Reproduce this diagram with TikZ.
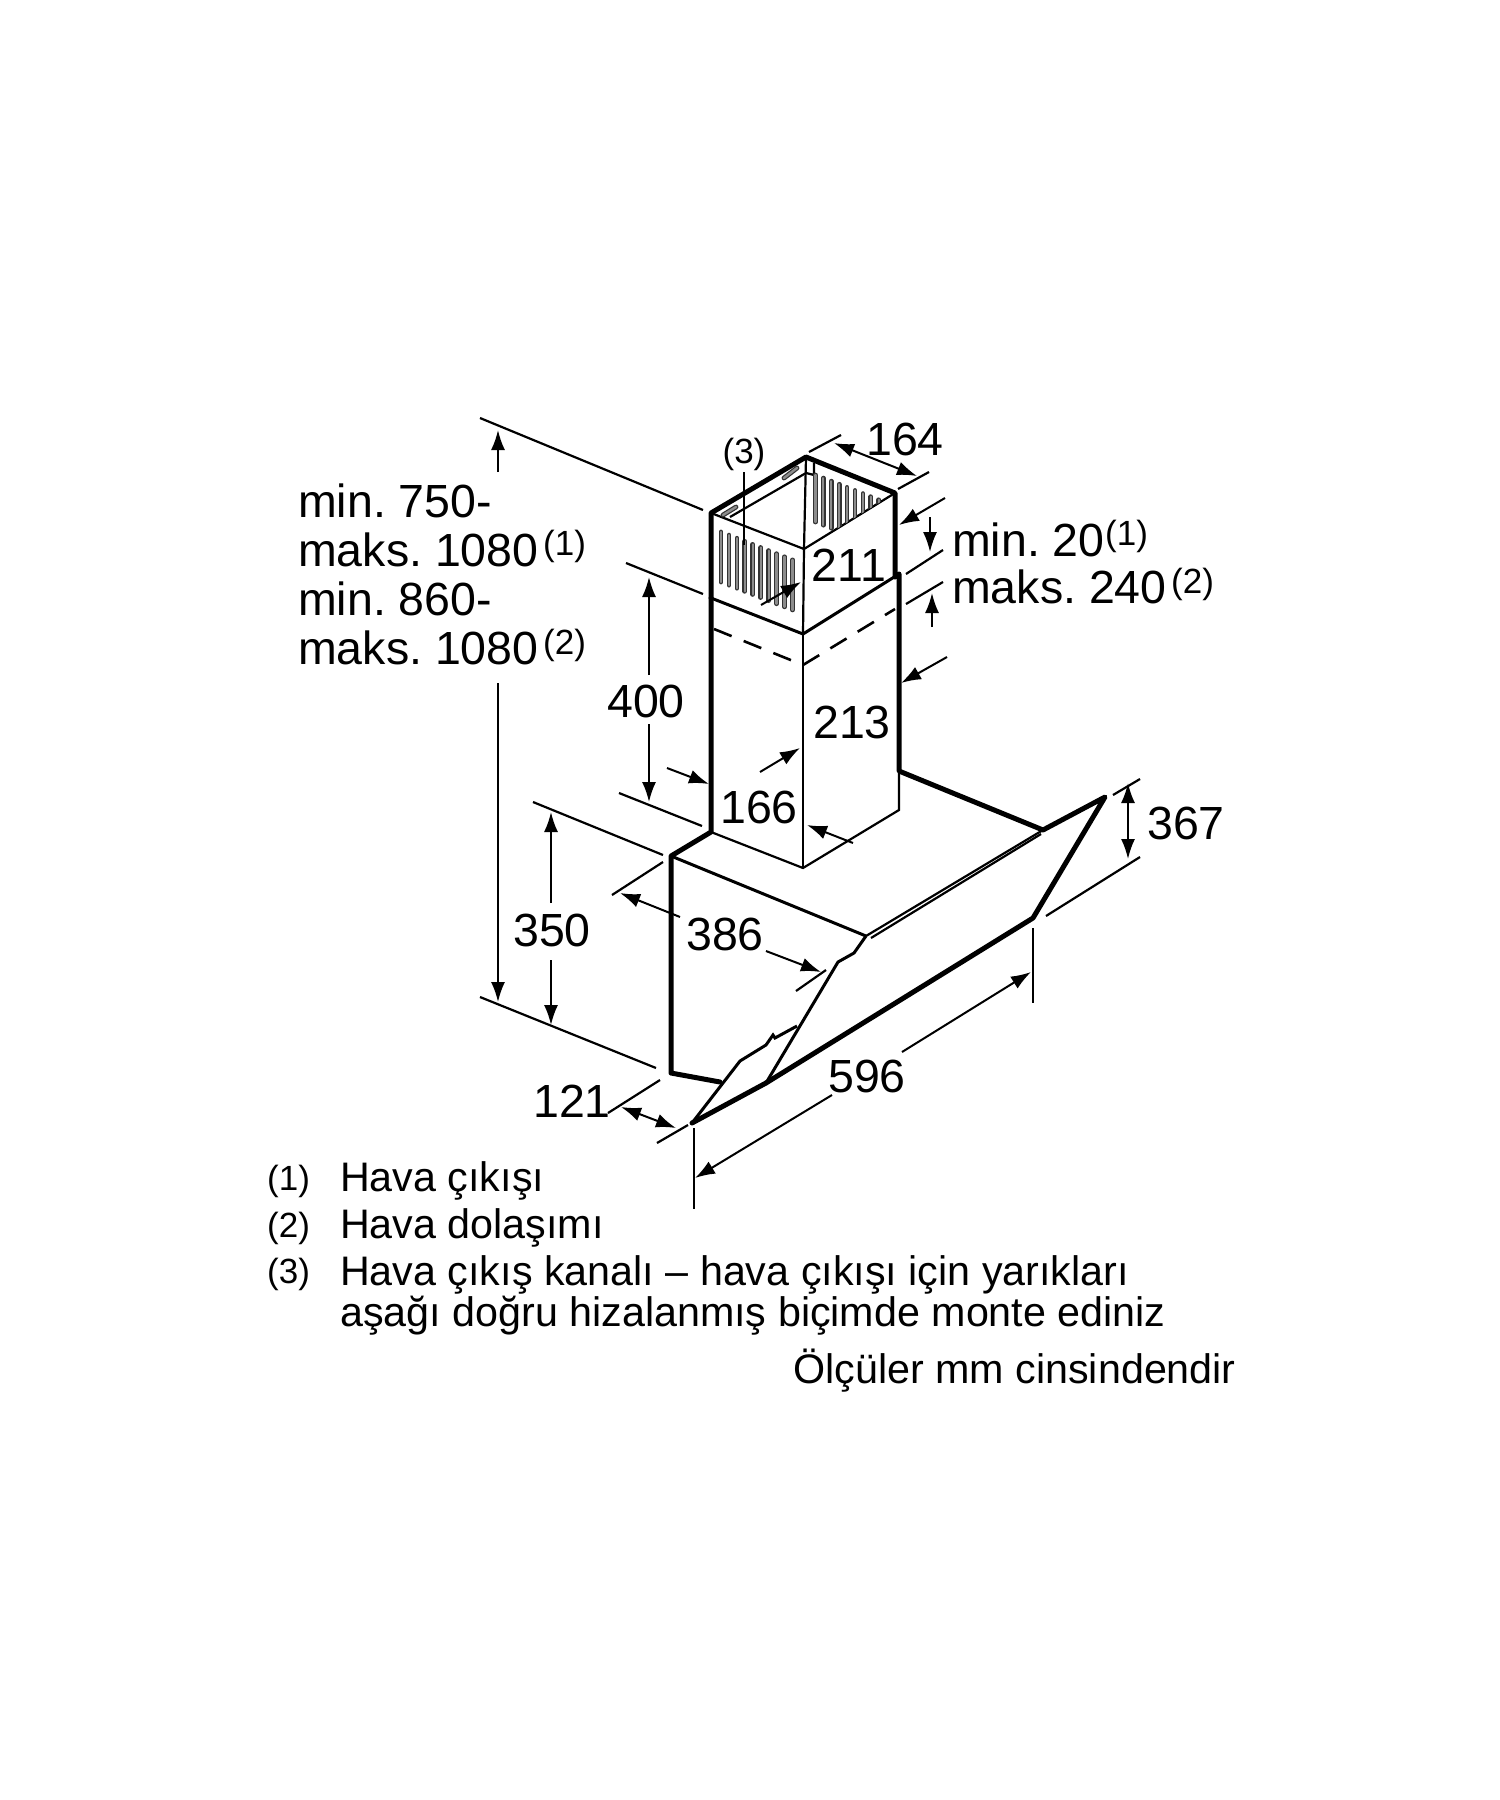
\documentclass[tikz,border=0pt]{standalone}
\usepackage{fontspec}
\setmainfont{Liberation Sans}
\frenchspacing
\usetikzlibrary{arrows.meta, positioning}

\tikzset{
  thinline/.style={line width=2.2pt},
  midline/.style={line width=3pt},
  hoodline/.style={line width=5pt, line cap=round, line join=round},
  dimline/.style={line width=2pt, -{Latex[length=20pt,width=14pt]}},
  bothline/.style={line width=2pt, {Latex[length=20pt,width=14pt]}-{Latex[length=20pt,width=14pt]}},
  slot/.style={line width=1.2pt, double=black!45, double distance=2.4pt, line cap=round, draw=black!80},
  big/.style={inner sep=0pt, anchor=base, font=\fontsize{46.5}{46.5}\selectfont},
  bigleft/.style={big, anchor=base west},
  small/.style={inner sep=0pt, anchor=base west, font=\fontsize{35}{35}\selectfont},
  legend/.style={inner sep=0pt, anchor=base west, font=\fontsize{41.25}{41.25}\selectfont},
}

\begin{document}
\begin{tikzpicture}[x=1pt, y=-1pt]
    \useasboundingbox (0,0) rectangle (1500,1800);

    \path (711,513) coordinate (top-left);
    \path (806,457) coordinate (top-back);
    \path (895,493) coordinate (top-right);
    \path (804,549) coordinate (top-front);
    \path (711,598) coordinate (joint-left);
    \path (803,634) coordinate (joint-front);
    \path (895,577) coordinate (joint-right);
    \path (899,574) coordinate (sleeve-right);
    \path (711,832) coordinate (duct-left);
    \path (803,868) coordinate (duct-front);
    \path (899,810) coordinate (duct-right);
    \path (899,771) coordinate (duct-back);
    \path (671,856) coordinate (hood-left);
    \path (1043,830) coordinate (hood-back);
    \path (866,936) coordinate (hood-front);
    \path (671,1073) coordinate (hood-low);
    \path (720,1082) coordinate (hood-end);
    \path (1105,797) coordinate (glass-top);
    \path (1033,918) coordinate (glass-right);
    \path (692,1123) coordinate (glass-tip);
    \path (766,1083) coordinate (glass-foot);
    \path (838,962) coordinate (glass-kink);

    % upper duct
    \draw[hoodline] (joint-left) -- (top-left) -- (top-back) -- (top-right) -- (joint-right);
    \draw[thinline] (top-left) -- (top-front) -- (top-right);
    \draw[thinline] (top-back) -- (top-front) -- (joint-front);
    \draw[thinline] (730,517) -- (806,473) -- (814,475) -- (814,463);
    \draw[slot] (723,515) -- (736,507);
    \draw[slot] (784,478) -- (797,468);
    \draw[midline] (joint-left) -- (joint-front) -- (sleeve-right);

    \foreach \k in {0,...,9}
      \draw[slot] ({721+7.95*\k},{532+3.1*\k}) -- ++(0,50);
    \begin{scope}
      \clip (804,549) -- (895,493) -- (895,465) -- (806,465) -- cycle;
      \foreach \k in {0,...,8}
        \draw[slot] ({815.3+7.94*\k},{475+3.1*\k}) -- ++(0,47);
    \end{scope}

    % lower duct
    \draw[hoodline] (joint-left) -- (duct-left) -- (hood-left) -- (hood-low) -- (hood-end);
    \draw[hoodline] (sleeve-right) -- (duct-back) -- (hood-back) -- (glass-top) -- (glass-right) -- (glass-foot);
    \draw[thinline] (duct-back) -- (duct-right) -- (duct-front) -- (duct-left);
    \draw[thinline] (joint-front) -- (duct-front);
    \draw[line width=2.6pt, dash pattern=on 19pt off 13pt] (714,629) -- (803,665) -- (895,609);

    % hood and glass
    \draw[midline] (hood-left) -- (hood-front);
    \draw[thinline] (hood-front) -- (hood-back);
    \draw[thinline] (871,938) -- (1041,834);
    \draw[midline] (hood-front) -- (854,953) -- (glass-kink) -- (glass-foot);
    \draw[hoodline] (glass-foot) -- (glass-tip);
    \draw[midline] (glass-tip) -- (740,1061) -- (766,1045) -- (773,1035) -- (775,1038) -- (797,1026);

    % extension lines
    \draw[thinline] (480,418) -- (703,510);
    \draw[thinline] (480,997) -- (656,1068);
    \draw[thinline] (626,563) -- (703,594);
    \draw[thinline] (619,793) -- (702,826);
    \draw[thinline] (533,802) -- (663,855);
    \draw[thinline] (612,895) -- (663,862);
    \draw[thinline] (796,991) -- (826,970);
    \draw[thinline] (608,1113) -- (660,1080);
    \draw[thinline] (657,1143) -- (688,1125);
    \draw[thinline] (694,1128) -- (694,1209);
    \draw[thinline] (1033,928) -- (1033,1003);
    \draw[thinline] (1113,795) -- (1140,779);
    \draw[thinline] (1046,916) -- (1140,857);
    \draw[thinline] (809,452) -- (841,435);
    \draw[thinline] (898,489) -- (929,472);
    \draw[thinline] (906,574) -- (943,550);
    \draw[thinline] (906,604) -- (943,582);
    \draw[thinline] (744,472) -- (744,545);

    % dimension arrows
    \draw[dimline] (498,472) -- (498,430);
    \draw[dimline] (498,683) -- (498,1002);
    \draw[dimline] (649,675) -- (649,577);
    \draw[dimline] (649,724) -- (649,802);
    \draw[dimline] (551,903) -- (551,812);
    \draw[dimline] (551,960) -- (551,1025);
    \draw[dimline] (680,917) -- (620,893);
    \draw[dimline] (766,951) -- (821,972);
    \draw[bothline] (621,1107) -- (676,1128);
    \draw[dimline] (902,1052) -- (1031,972);
    \draw[dimline] (832,1095) -- (695,1178);
    \draw[bothline] (1128,783) -- (1128,859);
    \draw[bothline] (834,443) -- (917,476);
    \draw[dimline] (945,498) -- (899,525);
    \draw[dimline] (761,605) -- (801,582);
    \draw[dimline] (947,657) -- (901,683);
    \draw[dimline] (760,772) -- (800,748);
    \draw[dimline] (667,768) -- (709,784);
    \draw[dimline] (853,843) -- (807,825);
    \draw[dimline] (930,517) -- (930,552);
    \draw[dimline] (932,627) -- (932,593);

    % dimension labels
    \node[bigleft] (lbl-min750) at (298,517) {min. 750-};
    \node[bigleft] (lbl-max1080a) at (298,566) {maks. 1080};
    \node[small] (sup-a) at (543,555) {(1)};
    \node[bigleft] (lbl-min860) at (298,615) {min. 860-};
    \node[bigleft] (lbl-max1080b) at (298,664) {maks. 1080};
    \node[small] (sup-b) at (543,654) {(2)};
    \node[big] (lbl-164) at (905,455) {164};
    \node[big] (lbl-211) at (849,581) {211};
    \node[big] (lbl-213) at (852,738) {213};
    \node[big] (lbl-166) at (759,823) {166};
    \node[big] (lbl-400) at (646,717) {400};
    \node[big] (lbl-367) at (1186,839) {367};
    \node[big] (lbl-350) at (552,946) {350};
    \node[big] (lbl-386) at (725,950) {386};
    \node[big] (lbl-596) at (867,1092) {596};
    \node[big] (lbl-121) at (572,1117) {121};
    \node[small, anchor=base] (lbl-slot) at (744,463) {(3)};
    \node[bigleft] (lbl-min20) at (952,556) {min. 20};
    \node[small] (sup-c) at (1105,545) {(1)};
    \node[bigleft] (lbl-max240) at (952,603) {maks. 240};
    \node[small] (sup-d) at (1171,593) {(2)};

    % legend
    \node[small] (key-1) at (267,1190) {(1)};
    \node[legend] (txt-1) at (340,1191) {Hava çıkışı};
    \node[small] (key-2) at (267,1237) {(2)};
    \node[legend] (txt-2) at (340,1238) {Hava dolaşımı};
    \node[small] (key-3) at (267,1283) {(3)};
    \node[legend] (txt-3) at (340,1285) {Hava çıkış kanalı – hava çıkışı için yarıkları};
    \node[legend] (txt-4) at (340,1326) {aşağı doğru hizalanmış biçimde monte ediniz};
    \node[legend, anchor=base east] (txt-5) at (1236,1383) {Ölçüler mm cinsindendir};
\end{tikzpicture}
\end{document}
